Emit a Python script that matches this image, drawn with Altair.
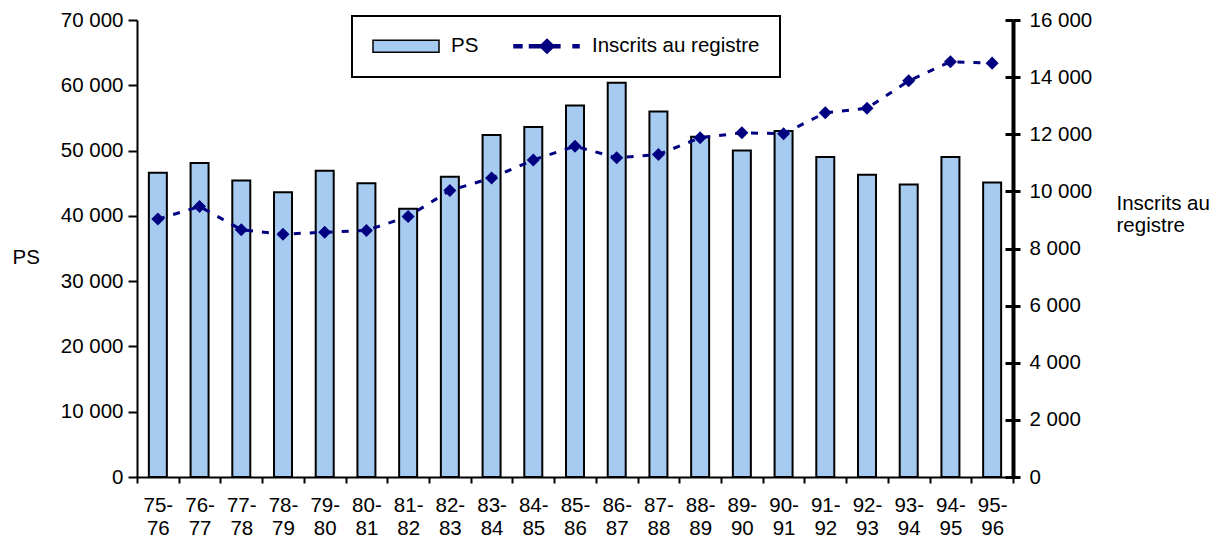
import altair as alt
import pandas as pd

# ---- data ----
years = ["75-76", "76-77", "77-78", "78-79", "79-80", "80-81", "81-82", "82-83",
         "83-84", "84-85", "85-86", "86-87", "87-88", "88-89", "89-90", "90-91",
         "91-92", "92-93", "93-94", "94-95", "95-96"]
ps = [46600, 48100, 45400, 43600, 46900, 45000, 41100, 46000, 52400, 53600, 56900,
      60400, 56000, 52100, 50000, 53000, 49000, 46300, 44800, 49000, 45100]
inscrits = [9030, 9470, 8660, 8500, 8570, 8630, 9120, 10030, 10470, 11100, 11580,
            11180, 11290, 11880, 12050, 12020, 12750, 12910, 13870, 14540, 14490]
series_names = ["PS", "Inscrits au registre"]
left_ticks = [0, 10000, 20000, 30000, 40000, 50000, 60000, 70000]
right_ticks = [0, 2000, 4000, 6000, 8000, 10000, 12000, 14000, 16000]

df = pd.DataFrame({"annee": years, "PS": ps, "Inscrits": inscrits})
legend_df = pd.DataFrame({"series": series_names})

FS = 20.5
BAR_FILL = "#A6CAF0"
NAVY = "#000080"
fmt = "replace(format(datum.value, ','), ',', ' ')"

# legend symbol paths (unit = half symbol width)
path_ps = "M-1,-0.18L1,-0.18L1,0.18L-1,0.18Z"
path_line = ("M-1,-0.045L-0.76,-0.045L-0.76,0.045L-1,0.045Z "
             "M-0.53,-0.045L-0.21,-0.045L-0.21,0.045L-0.53,0.045Z "
             "M-0.22,0L0,-0.21L0.22,0L0,0.21Z "
             "M0.22,-0.045L0.39,-0.045L0.39,0.045L0.22,0.045Z "
             "M0.79,-0.045L0.97,-0.045L0.97,0.045L0.79,0.045Z")

bars = alt.Chart(df).mark_bar(size=18, fill=BAR_FILL, stroke="black", strokeWidth=2).encode(
    x=alt.X("annee:N", sort=years,
            scale=alt.Scale(paddingInner=0, paddingOuter=0),
            axis=alt.Axis(title=None, labelAngle=0, tickBand="extent", tickSize=6,
                          tickWidth=2, domainWidth=2,
                          labelExpr="[substring(datum.label,0,3), substring(datum.label,3,5)]",
                          labelLineHeight=23, labelPadding=12, labelBaseline="top",
                          labelFontSize=FS)),
    y=alt.Y("PS:Q", scale=alt.Scale(domain=[0, 70000], nice=False),
            axis=alt.Axis(orient="left", values=left_ticks, labelExpr=fmt,
                          title="PS", titleAngle=0, titleX=-125, titleY=243,
                          titleAlign="left", titleBaseline="alphabetic",
                          tickSize=9, tickWidth=2, domainWidth=2, labelPadding=5,
                          labelFontSize=FS, titleFontSize=FS)),
)

line = alt.Chart(df).mark_line(color=NAVY, strokeWidth=3, strokeDash=[7, 9]).encode(
    x=alt.X("annee:N", sort=years,
            axis=alt.Axis(orient="bottom", offset=-7, tickSize=7, tickWidth=2,
                          tickBand="extent", labels=False, domain=False,
                          title=None, zindex=1)),
    y=alt.Y("Inscrits:Q", scale=alt.Scale(domain=[0, 16000], nice=False),
            axis=alt.Axis(orient="right", values=right_ticks, labelExpr=fmt,
                          title=["Inscrits au", "registre"], titleAngle=0,
                          titleX=103, titleY=189, titleAlign="left",
                          titleBaseline="alphabetic", titleLineHeight=22,
                          tickSize=7, tickWidth=3, domainWidth=4, labelPadding=9,
                          labelFontSize=FS, titleFontSize=FS)),
)

points = alt.Chart(df).mark_point(shape="diamond", filled=True, size=170,
                                  color=NAVY, opacity=1).encode(
    x=alt.X("annee:N", sort=years, axis=None),
    y=alt.Y("Inscrits:Q",
            axis=alt.Axis(orient="right", offset=-8, tickSize=8, tickWidth=3,
                          values=right_ticks, labels=False, domain=False,
                          title=None, zindex=1)),
)

inner = alt.layer(line, points).resolve_axis(y="independent")

leg = alt.Chart(legend_df).transform_filter("false").mark_point(filled=True).encode(
    color=alt.Color("series:N",
                    scale=alt.Scale(domain=series_names, range=[BAR_FILL, NAVY]),
                    legend=alt.Legend(title=None)),
    shape=alt.Shape("series:N",
                    scale=alt.Scale(domain=series_names, range=[path_ps, path_line]),
                    legend=alt.Legend(title=None)),
    stroke=alt.Stroke("series:N",
                      scale=alt.Scale(domain=series_names, range=["black", NAVY]),
                      legend=alt.Legend(title=None)),
)

chart = alt.layer(bars, inner, leg).resolve_scale(y="independent").resolve_axis(
    x="independent"
).properties(
    width=876, height=457,
    autosize=alt.AutoSizeParams(type="none"),
    padding={"left": 129, "top": 12, "right": 198, "bottom": 63},
).configure(
    font="Liberation Sans",
).configure_view(
    stroke=None
).configure_axis(
    grid=False, labelColor="black", titleColor="black", tickColor="black",
    domainColor="black", titleFontWeight="normal", labelFont="Liberation Sans",
    titleFont="Liberation Sans",
).configure_legend(
    orient="none", legendX=215, legendY=-4, direction="horizontal",
    strokeColor="black", strokeWidth=2, padding=20,
    labelFontSize=FS, labelColor="black", labelOffset=11, columnPadding=34,
    symbolSize=4356, symbolStrokeWidth=1.5, clipHeight=20, symbolOpacity=1,
    labelFont="Liberation Sans", labelLimit=400,
)

chart.save("out.html", embed_options={"renderer": "svg", "actions": False})
